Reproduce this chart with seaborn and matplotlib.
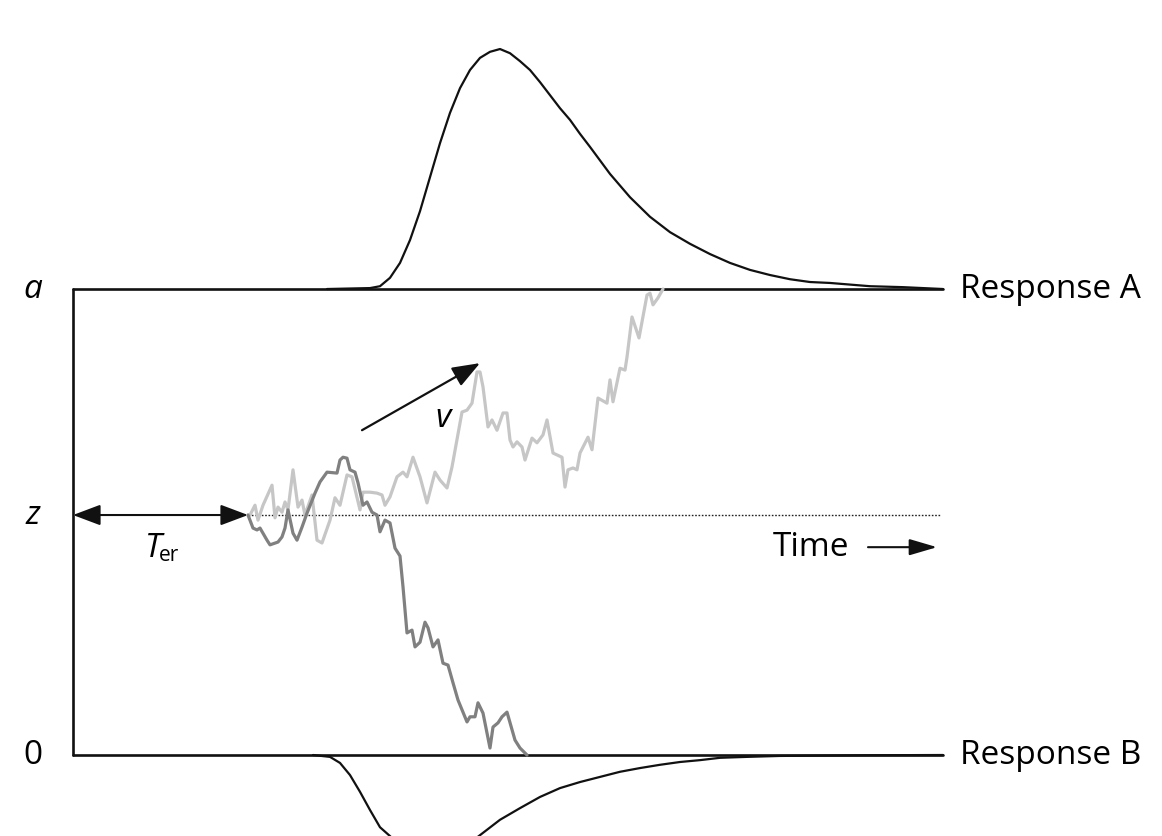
import matplotlib
matplotlib.use("Agg")
import matplotlib.pyplot as plt
import seaborn as sns

# evidence scale: lower boundary 0, upper boundary a = 100, start point z
# time scale: 0 at the left edge of the box, Ter = non-decision time
a_bound = 100
z_start = 51.5
t_er = 175
t_end = 870

# light gray path (hits the upper boundary -> Response A)
light_t = [175, 177, 182, 185, 190, 199, 202, 205, 209, 212, 215, 220, 225, 229, 232,
           239, 244, 249, 257, 262, 267, 274, 279, 287, 290, 297, 304, 309, 312, 317,
           324, 330, 334, 340, 347, 354, 362, 367, 374, 379, 389, 394, 399, 404, 407,
           410, 415, 419, 424, 430, 434, 437, 440, 444, 449, 452, 459, 464, 470, 474,
           480, 489, 492, 495, 500, 504, 507, 515, 519, 525, 534, 537, 540, 547, 552,
           554, 559, 566, 574, 577, 580, 585, 590]
light_y = [51.5, 51.5, 53.6, 50.4, 53.6, 57.9, 50.9, 53.2, 52.1, 54.3, 52.6, 61.2, 53.2, 54.7, 51.5,
           55.8, 46.1, 45.5, 50.4, 55.2, 53.6, 60.1, 59.7, 52.6, 56.4, 56.4, 56.2, 55.8, 53.6, 55.4,
           59.7, 60.7, 59.7, 63.9, 59.7, 54.1, 60.7, 59.0, 57.3, 61.8, 73.6, 74.0, 75.5, 82.2, 82.2,
           79.0, 70.4, 71.9, 69.7, 73.4, 73.4, 67.6, 66.1, 67.2, 66.1, 63.3, 68.0, 67.0, 68.7, 71.9,
           64.8, 63.9, 57.5, 61.2, 61.6, 61.2, 64.8, 68.2, 65.5, 76.6, 75.5, 80.5, 75.8, 83.0, 82.6,
           85.4, 94.0, 89.5, 98.7, 99.1, 96.6, 98.1, 100]

# dark gray path (hits the lower boundary -> Response B)
dark_t = [175, 180, 184, 187, 194, 197, 205, 209, 212, 215, 220, 224, 229, 234, 242,
          247, 254, 264, 267, 270, 274, 277, 282, 285, 290, 294, 299, 304, 307, 312,
          317, 322, 327, 330, 334, 339, 342, 347, 352, 355, 360, 365, 370, 375, 380,
          385, 394, 397, 402, 405, 410, 417, 420, 425, 429, 434, 442, 447, 454]
dark_y = [51.5, 48.7, 48.3, 48.7, 46.1, 45.1, 45.7, 46.8, 48.7, 52.6, 47.6, 46.1, 48.9, 51.9, 56.2,
          58.6, 60.7, 60.5, 63.3, 63.9, 63.7, 61.2, 60.7, 58.4, 53.6, 54.3, 52.1, 51.5, 47.9, 50.4,
          49.8, 44.4, 42.7, 36.1, 26.2, 26.8, 23.2, 24.2, 28.5, 27.3, 23.2, 24.7, 19.7, 19.3, 15.5,
          11.8, 7.1, 8.2, 8.2, 11.2, 9.0, 1.5, 6.0, 6.9, 8.2, 9.2, 3.2, 1.5, 0]

# finishing time distribution at the upper boundary
dens_a_t = [254, 297, 307, 317, 327, 337, 347, 357, 367, 377, 387, 397, 407, 417, 427,
            437, 447, 457, 467, 477, 487, 497, 507, 517, 537, 557, 577, 597, 617, 637,
            657, 677, 697, 717, 737, 757, 797, 830, 870]
dens_a = [0, 0.2, 0.6, 2.4, 5.6, 10.5, 16.7, 24.0, 31.3, 37.8, 43.1, 47.0, 49.6, 50.9, 51.5,
          50.6, 48.9, 47.0, 44.4, 41.6, 38.8, 36.3, 33.3, 30.5, 24.7, 19.7, 15.5, 12.2, 9.7, 7.5,
          5.6, 4.1, 3.0, 2.1, 1.5, 1.3, 0.6, 0.4, 0]

# finishing time distribution at the lower boundary (drawn downwards)
dens_b_t = [240, 257, 267, 277, 287, 297, 307, 317, 327, 342, 357, 372, 387, 407, 427,
            447, 467, 487, 507, 527, 547, 567, 587, 607, 627, 647, 674, 707, 797, 870]
dens_b = [0, 0.4, 1.7, 4.3, 7.9, 11.8, 15.5, 17.4, 19.5, 22.0, 23.0, 22.5, 20.5, 17.2, 13.9,
          11.4, 9.0, 7.1, 5.8, 4.7, 3.6, 2.8, 2.1, 1.5, 1.1, 0.6, 0.4, 0.2, 0.05, 0]

sns.set_style("white")
plt.rcParams['font.family'] = ['Open Sans', 'DejaVu Sans']
plt.rcParams['text.color'] = 'black'

fig = plt.figure(figsize=(11.62, 8.36), dpi=100)
ax = fig.add_axes([0, 0, 1, 1])

lw = 1.9
# boundaries and box
ax.plot([0, t_end], [a_bound, a_bound], color='#111111', lw=lw)
ax.plot([0, t_end], [0, 0], color='#111111', lw=lw)
ax.plot([0, 0], [0, a_bound], color='#111111', lw=lw)
# starting point
ax.plot([t_er, t_end - 3], [z_start, z_start], color='#222222', lw=1.0, ls=(0, (1.2, 1.2)))

# densities
sns.lineplot(x=dens_a_t, y=[a_bound + d for d in dens_a], ax=ax, color='#111111',
             lw=1.6, sort=False, estimator=None)
sns.lineplot(x=dens_b_t, y=[-d for d in dens_b], ax=ax, color='#111111',
             lw=1.6, sort=False, estimator=None)

# sample paths
sns.lineplot(x=light_t, y=light_y, ax=ax, color='#c6c6c6', lw=2.3, sort=False, estimator=None)
sns.lineplot(x=dark_t, y=dark_y, ax=ax, color='#808080', lw=2.3, sort=False, estimator=None)

head = '-|>,head_length=0.85,head_width=0.32'
# Ter arrow
ax.annotate('', xy=(0, z_start), xytext=(t_er, z_start),
            arrowprops=dict(arrowstyle='<|-|>,head_length=0.85,head_width=0.32', mutation_scale=20,
                            color='#111111', lw=1.5, shrinkA=0, shrinkB=0))
# drift arrow
ax.annotate('', xy=(407, 84.1), xytext=(289, 69.7),
            arrowprops=dict(arrowstyle=head, mutation_scale=20, color='#111111',
                            lw=1.6, shrinkA=0, shrinkB=0))
# time arrow
ax.annotate('', xy=(864, 44.6), xytext=(795, 44.6),
            arrowprops=dict(arrowstyle='-|>,head_length=0.85,head_width=0.25', mutation_scale=20,
                            color='#111111', lw=1.5, shrinkA=0, shrinkB=0))

fs = 24
ax.text(-40, a_bound, 'a', fontsize=fs, style='italic', ha='center', va='center')
ax.text(-40, z_start, 'z', fontsize=fs, style='italic', ha='center', va='center')
ax.text(-40, 0, '0', fontsize=fs, ha='center', va='center')
ax.text(80, 42.5, 'T', fontsize=fs, style='italic', ha='center', va='baseline')
ax.text(86, 41.6, 'er', fontsize=15, ha='left', va='baseline')
ax.text(370, 72.3, 'v', fontsize=fs, style='italic', ha='center', va='center')
ax.text(738, 44.6, 'Time', fontsize=fs, ha='center', va='center')
ax.text(887, a_bound, 'Response A', fontsize=fs, ha='left', va='center')
ax.text(887, 0, 'Response B', fontsize=fs, ha='left', va='center')

ax.set_xlim(-73, 1089)
ax.set_ylim(-17.38, 162.02)
ax.axis('off')

fig.savefig('out.png', dpi=100)
